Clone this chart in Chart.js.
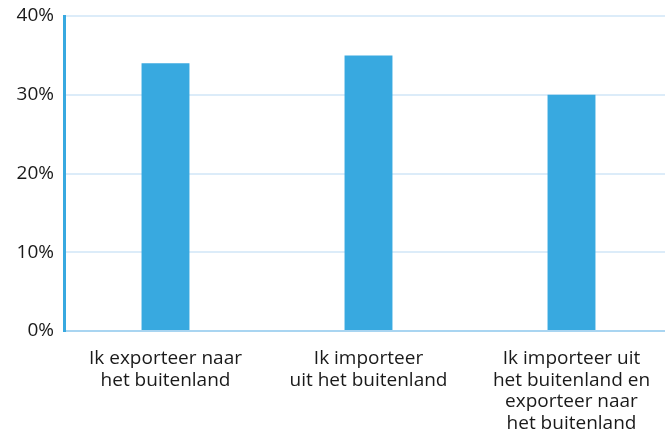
<!DOCTYPE html>
<html>
<head>
<meta charset="utf-8">
<script src="https://cdn.jsdelivr.net/npm/chart.js@4/dist/chart.umd.min.js"></script>
<style>
  html, body { margin: 0; padding: 0; background: #fff; overflow: hidden; }
  #wrap { width: 675px; height: 430px; }
</style>
</head>
<body>
<div id="wrap"><canvas id="myBarChart"></canvas></div>
<script>
// data
const categories = [
  ['Ik exporteer naar', 'het buitenland'],
  ['Ik importeer', 'uit het buitenland'],
  ['Ik importeer uit', 'het buitenland en', 'exporteer naar', 'het buitenland']
];
const values = [34, 35, 30];
const tickValues = [0, 10, 20, 30, 40];

const barBlue = '#38a9e0';
const ctx = document.getElementById('myBarChart');

new Chart(ctx, {
  type: 'bar',
  data: {
    labels: categories,
    datasets: [{
      data: values,
      backgroundColor: barBlue,
      borderWidth: 0,
      barPercentage: 0.236,
      categoryPercentage: 1
    }]
  },
  options: {
    responsive: true,
    maintainAspectRatio: false,
    animation: false,
    layout: { padding: { top: 16, left: 0, right: 2, bottom: 0 } },
    plugins: { legend: { display: false }, tooltip: { enabled: false } },
    scales: {
      x: {
        grid: { display: false },
        border: { color: '#a9d5f1', width: 2 },
        ticks: {
          color: '#1a1a1a',
          padding: 9,
          maxRotation: 0,
          autoSkip: false,
          font: { family: 'Open Sans', size: 19, lineHeight: 1.13 }
        },
        afterFit: function(scale) { scale.height = 99; }
      },
      y: {
        min: 0,
        max: 40,
        afterBuildTicks: function(scale) {
          scale.ticks = tickValues.map(function(v) { return { value: v }; });
        },
        grid: { color: '#dcecf9', lineWidth: 2, drawTicks: false },
        border: { color: barBlue, width: 3 },
        ticks: {
          color: '#1a1a1a',
          padding: 10,
          font: { family: 'Open Sans', size: 19, lineHeight: 1 },
          callback: function(value) { return value + '%'; }
        },
        afterFit: function(scale) {
          scale.width = 64;
          scale.paddingTop = 0;
        }
      }
    }
  }
});
</script>
</body>
</html>
